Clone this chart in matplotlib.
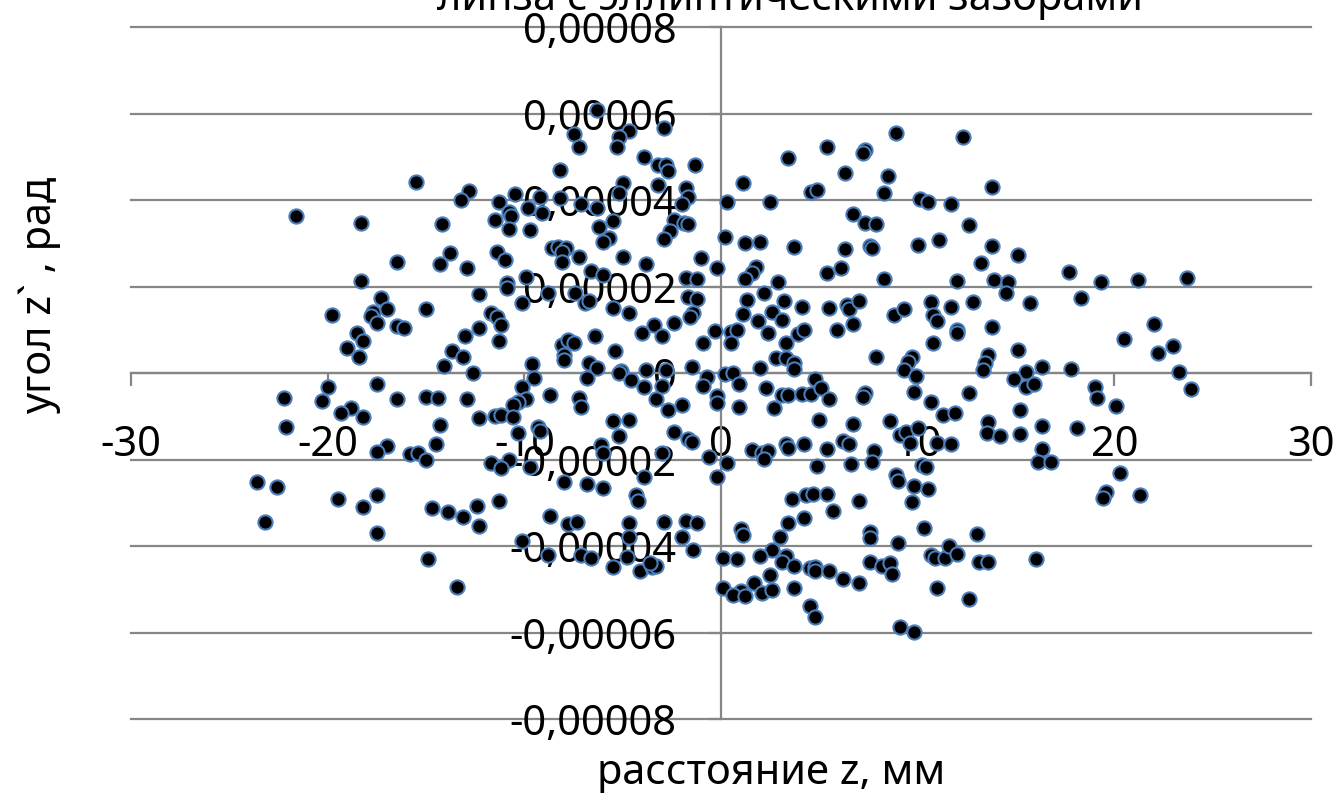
import numpy as np
import matplotlib
matplotlib.use("Agg")
import matplotlib.pyplot as plt
import matplotlib.ticker as mticker

# ── Palette ──────────────────────────────────────────────
GRID = "#868686"; EDGE = "#4A7EBB"; TEXT = "#000000"

plt.rcParams.update({
    "font.family": ["Noto Sans", "DejaVu Sans"],
    "font.size": 30, "axes.unicode_minus": False, "text.color": TEXT,
})

# distance z, mm / angle z', units of 1e-5 rad
z_upper = [
    -15.5, -12.8, -13.2, -21.6, -18.3, -14.2, -13.8, -16.5, -14.3, -12.9,
    -18.3, -6.3, -2.9, -7.5, -4.7, -5.2, -7.2, -5.3, -3.9, -3.2,
    -2.8, -2.7, -1.3, -8.2, -5.0, -5.2, -3.2, -1.8, -1.7, -2.0,
    -11.3, -10.5, -9.2, -8.2, -9.8, -9.1, -11.5, -10.8, -10.7, -10.8,
    -9.7, -7.1, -6.3, -5.5, -6.2, -5.7, -6.0, -2.4, -1.9, -1.7,
    -2.6, -2.9, -11.4, -11.0, -8.6, -8.3, -7.9, -8.1, -8.1, -7.2,
    -5.0, -3.8, -1.0, -0.2, -9.9, -10.9, -6.6, -6.0, -1.8, -1.2,
    8.9, 12.3, 5.4, 7.3, 7.2, 3.4, 6.3, 8.5, 1.1, 4.6,
    4.9, 8.3, 0.3, 2.5, 10.1, 10.5, 11.7, 6.7, 7.3, 7.9,
    12.6, 0.2, 1.2, 2.0, 3.7, 6.3, 7.6, 7.7, 10.0, 11.1,
    1.8, 1.6, 1.2, 2.9, 5.4, 6.1, 8.3, 12.0, 13.8, 13.8,
    15.1, 13.2, 17.7, 13.9, 14.6, 19.3, 21.2, 23.7,
]
ang_upper = [
    4.42, 4.21, 4.00, 3.63, 3.47, 3.44, 2.77, 2.57, 2.52, 2.43,
    2.13, 6.08, 5.66, 5.53, 5.60, 5.46, 5.23, 5.23, 4.99, 4.81,
    4.81, 4.67, 4.81, 4.69, 4.39, 4.16, 4.35, 4.28, 4.07, 3.91,
    3.95, 4.14, 4.07, 4.05, 3.81, 3.70, 3.54, 3.72, 3.63, 3.33,
    3.31, 3.91, 3.81, 3.51, 3.38, 3.12, 3.03, 3.54, 3.47, 3.44,
    3.28, 3.10, 2.80, 2.61, 2.89, 2.91, 2.89, 2.80, 2.57, 2.68,
    2.68, 2.52, 2.66, 2.43, 2.22, 2.08, 2.36, 2.27, 2.20, 2.17,
    5.55, 5.46, 5.23, 5.16, 5.09, 4.97, 4.62, 4.55, 4.39, 4.18,
    4.23, 4.16, 3.95, 3.95, 4.02, 3.95, 3.91, 3.68, 3.47, 3.44,
    3.42, 3.14, 3.01, 3.03, 2.91, 2.87, 2.94, 2.89, 2.96, 3.07,
    2.45, 2.31, 2.17, 2.10, 2.31, 2.43, 2.17, 2.13, 4.30, 2.94,
    2.73, 2.54, 2.34, 2.15, 2.10, 2.10, 2.15, 2.20,
]

z_mid = [
    -17.3, -17.0, -17.7, -17.8, -17.5, -19.8, -15.0, -16.5, -16.1, -18.5,
    -18.2, -19.0, -18.4, -12.3, -12.3, -13.0, -13.7, -13.1, -14.1, -12.6,
    -20.0, -22.2, -20.3, -17.5, -16.5, -15.0, -14.4, -12.9, -18.8, -19.3,
    -18.2, -22.1, -14.3, -12.3, -14.5, -17.0, -17.5, -15.8, -15.4, -15.0,
    -10.9, -10.1, -8.8, -7.4, -6.9, -6.7, -5.5, -4.7, -1.7, -1.2,
    -1.4, -1.6, -11.7, -11.4, -11.2, -11.3, -3.4, -2.4, -4.0, -3.0,
    -0.3, -0.9, -6.4, -8.1, -7.8, -7.5, -8.0, -8.0, -5.4, -9.6,
    -6.7, -6.3, -6.8, -5.1, -5.2, -4.6, -3.8, -3.9, -2.8, -3.0,
    -1.5, -0.7, -0.9, -9.5, -10.1, -8.7, -9.9, -10.3, -10.6, -7.2,
    -7.1, -3.3, -2.7, -2.0, -0.2, -0.2, -11.5, -11.2, -10.6, -9.3,
    -9.2, -10.3, -5.5, -4.7, -5.2, -2.4, -1.7, -1.5, -6.1, -6.0,
    -3.0, -0.6, -11.7, -10.8,
    1.3, 2.2, 3.2, 2.6, 1.1, 1.9, 3.1, 4.1, 5.5, 6.4,
    6.5, 7.0, 6.7, 5.9, 0.5, 0.8, 0.5, 2.4, 3.9, 4.2,
    3.3, 2.8, 3.3, 3.7, 3.7, 2.0, 0.2, 0.6, 0.9, 2.3,
    3.1, 3.4, 4.1, 4.6, 4.8, 5.1, 5.5, 2.7, 0.9, 5.0,
    6.7, 7.3, 7.2, 7.9, 8.8, 9.3, 10.7, 11.7, 10.8, 11.0,
    12.0, 12.0, 10.8, 9.7, 9.5, 9.3, 9.9, 9.8, 10.7, 11.3,
    11.9, 12.6, 8.6, 9.1, 9.4, 10.0, 9.6, 11.0, 11.7, 1.6,
    2.1, 2.4, 2.2, 3.3, 3.4, 4.2, 5.4, 6.2, 6.5, 7.8,
    0.3, 4.9, 6.6, 7.7, 10.2,
    14.5, 12.8, 15.7, 18.3, 13.8, 22.0, 20.5, 23.0, 22.2, 15.1,
    13.6, 13.4, 13.3, 15.5, 16.3, 17.8, 14.9, 15.5, 15.9, 23.3,
    23.9, 19.0, 19.1, 20.1, 15.2, 13.6, 13.5, 14.2, 15.2, 16.3,
    18.1, 16.3, 16.1, 16.8,
]
ang_mid = [
    1.73, 1.48, 1.41, 1.32, 1.16, 1.34, 1.48, 1.09, 1.04, 0.92,
    0.74, 0.58, 0.37, 1.83, 1.04, 0.86, 0.51, 0.37, 0.16, 0.00,
    -0.32, -0.58, -0.65, -0.25, -0.60, -0.55, -0.58, -0.60, -0.81, -0.92,
    -1.02, -1.25, -1.20, -1.04, -1.64, -1.69, -1.83, -1.87, -1.85, -2.01,
    1.97, 1.62, 1.85, 1.85, 1.62, 1.66, 1.50, 1.39, 1.76, 1.71,
    1.39, 1.29, 1.39, 1.29, 1.11, 0.74, 1.11, 1.16, 0.92, 0.86,
    0.97, 0.69, 0.86, 0.65, 0.76, 0.69, 0.42, 0.30, 0.51, 0.21,
    0.23, 0.12, -0.12, 0.05, 0.00, -0.16, 0.07, -0.32, 0.07, -0.30,
    0.14, -0.09, -0.30, -0.12, -0.32, -0.51, -0.60, -0.67, -0.74, -0.58,
    -0.79, -0.60, -0.86, -0.74, -0.53, -0.69, -0.99, -0.97, -1.02, -1.25,
    -1.34, -1.39, -1.11, -1.09, -1.46, -1.36, -1.53, -1.60, -1.66, -1.85,
    -1.85, -1.94, -2.08, -2.01,
    1.69, 1.85, 1.66, 1.41, 1.36, 1.20, 1.23, 1.53, 1.50, 1.57,
    1.48, 1.66, 1.13, 0.99, 0.95, 0.99, 0.69, 0.92, 0.90, 0.99,
    0.69, 0.35, 0.35, 0.23, 0.09, 0.12, -0.02, 0.00, -0.25, -0.35,
    -0.51, -0.51, -0.49, -0.49, -0.14, -0.35, -0.60, -0.81, -0.79, -1.09,
    -1.18, -0.46, -0.55, 0.37, 1.34, 1.48, 1.64, 1.53, 1.34, 1.20,
    0.99, 0.92, 0.69, 0.37, 0.25, 0.07, -0.07, -0.44, -0.67, -0.97,
    -0.92, -0.46, -1.11, -1.43, -1.36, -1.27, -1.62, -1.62, -1.64, -1.78,
    -1.85, -1.80, -1.99, -1.64, -1.73, -1.64, -1.76, -1.57, -1.64, -1.80,
    -2.08, -2.15, -2.10, -2.06, -2.13,
    1.85, 1.64, 1.62, 1.73, 1.06, 1.13, 0.79, 0.62, 0.46, 0.53,
    0.42, 0.23, 0.07, 0.02, 0.14, 0.09, -0.14, -0.32, -0.25, 0.02,
    -0.37, -0.32, -0.58, -0.76, -0.86, -1.13, -1.39, -1.46, -1.41, -1.23,
    -1.27, -1.76, -2.06, -2.06,
]

z_lower = [
    -23.6, -22.6, -23.2, -19.5, -18.2, -17.5, -17.5, -14.7, -13.9, -13.1,
    -12.4, -12.3, -14.9, -13.4,
    -11.2, -9.7, -8.0, -6.8, -6.0, -3.9, -4.3, -4.2, -11.3, -8.7,
    -7.8, -7.3, -4.7, -2.9, -1.8, -1.2, -2.0, -1.4, -10.1, -8.8,
    -7.1, -6.6, -5.5, -4.8, -4.7, -4.1, -3.5, -3.3, -3.6, -0.2,
    0.1, 0.1,
    10.4, 8.9, 9.0, 9.8, 10.5, 9.7, 3.6, 4.3, 4.7, 5.4,
    5.7, 7.0, 4.2, 3.4, 1.0, 1.1, 3.0, 2.6, 3.3, 3.1,
    2.0, 0.8, 3.7, 4.5, 4.8, 4.8, 5.5, 6.2, 7.0, 7.6,
    7.6, 9.0, 7.6, 8.2, 8.6, 8.7, 10.3, 10.7, 10.9, 11.4,
    11.6, 12.0, 11.0, 12.6, 2.5, 1.7, 1.0, 0.6, 1.2, 2.1,
    2.6, 3.7, 4.5, 4.8, 9.1, 9.8,
    20.3, 19.6, 19.4, 21.3, 13.0, 13.1, 13.6, 16.0,
]
ang_lower = [
    -2.52, -2.64, -3.44, -2.91, -3.10, -2.82, -3.70, -3.12, -3.21, -3.33,
    -3.07, -3.54, -4.30, -4.95,
    -2.20, -2.17, -2.52, -2.57, -2.66, -2.40, -2.82, -2.96, -2.96, -3.31,
    -3.49, -3.44, -3.47, -3.44, -3.42, -3.47, -3.79, -4.09, -3.88, -4.21,
    -4.21, -4.28, -4.49, -4.25, -3.79, -4.58, -4.49, -4.46, -4.39, -2.40,
    -4.28, -4.97,
    -2.17, -2.36, -2.50, -2.61, -2.68, -2.98, -2.91, -2.82, -2.80, -2.80,
    -3.19, -2.96, -3.35, -3.47, -3.61, -3.75, -3.79, -4.09, -4.23, -4.37,
    -4.23, -4.30, -4.46, -4.51, -4.49, -4.58, -4.58, -4.76, -4.86, -3.68,
    -3.81, -3.93, -4.37, -4.46, -4.39, -4.65, -3.58, -4.21, -4.28, -4.28,
    -4.00, -4.19, -4.97, -5.23, -4.67, -4.86, -5.04, -5.13, -5.16, -5.09,
    -5.02, -4.97, -5.39, -5.64, -5.87, -5.99,
    -2.31, -2.75, -2.89, -2.82, -3.72, -4.37, -4.37, -4.30,
]

X_TICKS = [-30, -20, -10, 0, 10, 20, 30]
Y_TICKS = [-8e-5, -6e-5, -4e-5, -2e-5, 0, 2e-5, 4e-5, 6e-5, 8e-5]

z = np.concatenate([z_upper, z_mid, z_lower])
ang = np.concatenate([ang_upper, ang_mid, ang_lower]) * 1e-5

fig = plt.figure(figsize=(13.42, 7.93), dpi=100)
fig.patch.set_facecolor("white")
ax = fig.add_axes([131 / 1342, 74 / 793, 1180 / 1342, 692 / 793])

ax.scatter(z, ang, s=105, c="black", edgecolors=EDGE, linewidths=1.5, zorder=3)

ax.set_xlim(-30, 30)
ax.set_ylim(-8e-5, 8e-5)
ax.set_xticks(X_TICKS)
ax.set_yticks(Y_TICKS)

# horizontal gridlines only, including the outer ones
for y in Y_TICKS:
    ax.axhline(y, color=GRID, linewidth=1.6, zorder=0.5, clip_on=False)

# axes cross at the origin
for s in ("top", "right"):
    ax.spines[s].set_visible(False)
for s in ("left", "bottom"):
    ax.spines[s].set_position(("data", 0))
    ax.spines[s].set_color(GRID)
    ax.spines[s].set_linewidth(1.6)

ax.xaxis.set_major_formatter(mticker.FuncFormatter(lambda v, _: f"{v:.0f}"))
ax.yaxis.set_major_formatter(mticker.FuncFormatter(
    lambda v, _: "0" if abs(v) < 1e-12 else f"{v:.5f}".replace(".", ",")))
ax.tick_params(axis="x", direction="out", length=9, width=1.6, color=GRID,
               pad=28, labelsize=30)
ax.tick_params(axis="y", direction="out", length=9, width=1.6, color=GRID,
               pad=23, labelsize=30)

fig.text(790 / 1342, 1 - 10 / 793, "линза с эллиптическими зазорами",
         ha="center", va="baseline", fontsize=30)
fig.text(771 / 1342, 1 - 773 / 793, "расстояние z, мм",
         ha="center", va="center", fontsize=30)
fig.text(40 / 1342, 1 - 295 / 793, "угол z` , рад",
         ha="center", va="center", rotation=90, fontsize=30)

fig.savefig("out.png", dpi=100, facecolor="white")
